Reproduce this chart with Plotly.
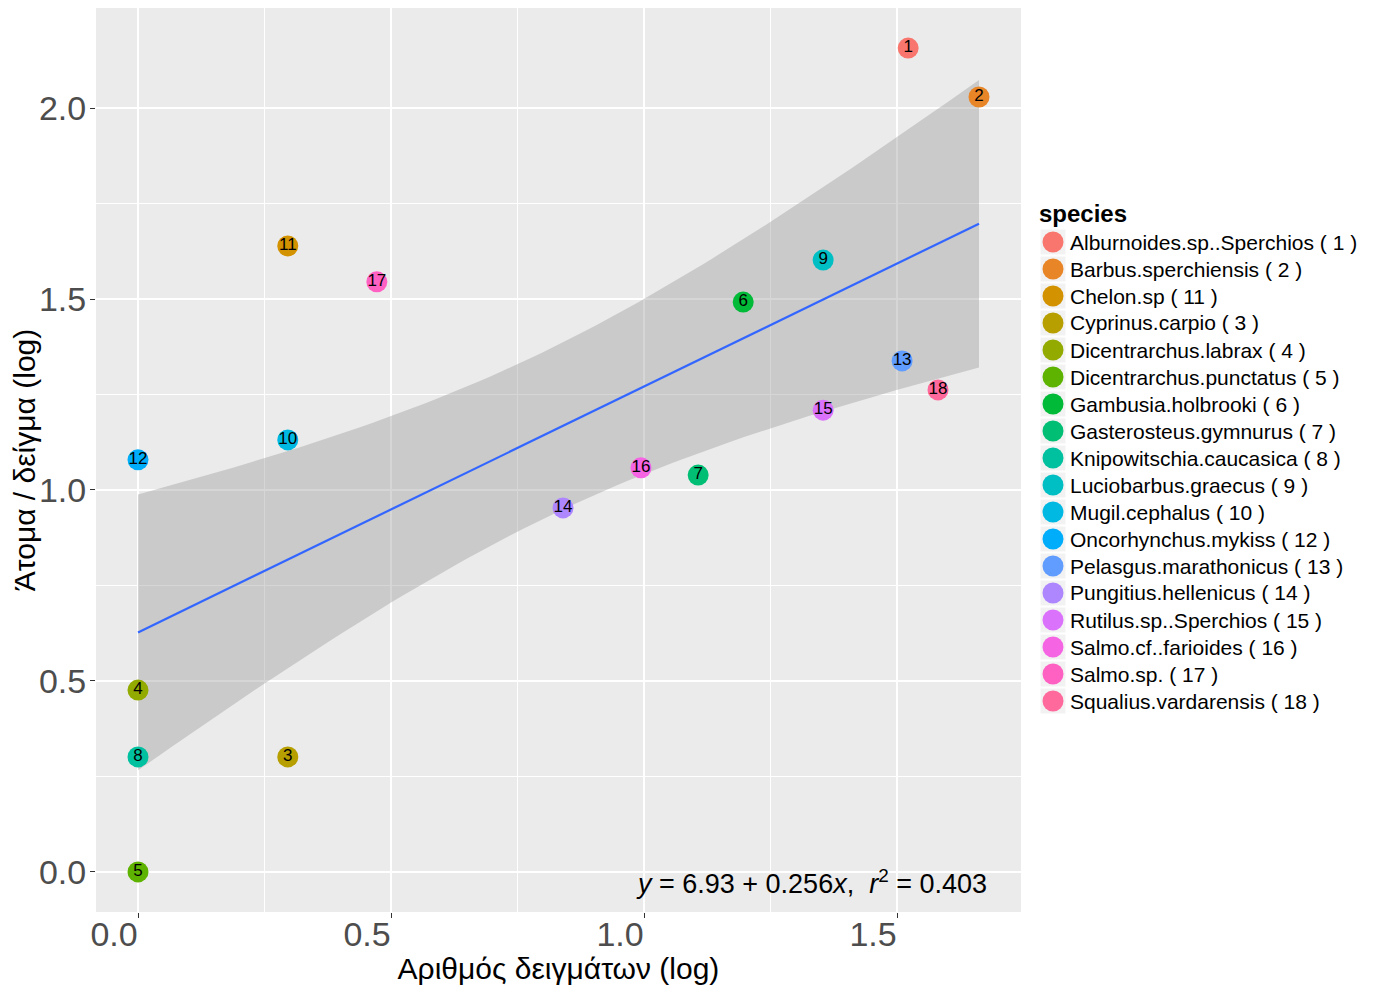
import math
import numpy as np
import plotly.graph_objects as go

# ---- data ----
species = ["Alburnoides.sp..Sperchios", "Barbus.sperchiensis", "Chelon.sp", "Cyprinus.carpio",
           "Dicentrarchus.labrax", "Dicentrarchus.punctatus", "Gambusia.holbrooki",
           "Gasterosteus.gymnurus", "Knipowitschia.caucasica", "Luciobarbus.graecus",
           "Mugil.cephalus", "Oncorhynchus.mykiss", "Pelasgus.marathonicus",
           "Pungitius.hellenicus", "Rutilus.sp..Sperchios", "Salmo.cf..farioides",
           "Salmo.sp.", "Squalius.vardarensis"]
ids = [1, 2, 11, 3, 4, 5, 6, 7, 8, 9, 10, 12, 13, 14, 15, 16, 17, 18]
x_log = [1.522, 1.662, 0.296, 0.296, 0.0, 0.0, 1.196, 1.107, 0.0, 1.354,
         0.296, 0.0, 1.510, 0.840, 1.354, 0.994, 0.472, 1.581]
y_log = [2.157, 2.029, 1.639, 0.301, 0.476, 0.0, 1.492, 1.039, 0.301, 1.602,
         1.131, 1.079, 1.338, 0.953, 1.209, 1.058, 1.545, 1.262]
x_ticks = [0.0, 0.5, 1.0, 1.5]
y_ticks = [0.0, 0.5, 1.0, 1.5, 2.0]
eq_text = "<i>y</i> = 6.93 + 0.256<i>x</i>,  <i>r</i><sup>2</sup> = 0.403"
legend_title = "species"

FONT = "Liberation Sans, Arial"
OFF = 8                     # page body margin that shifts the figure
W, H = 1379 - OFF, 985 - OFF
ML, MR, MT, MB = 96 - OFF, 358, 0, 73
PW, PH = W - ML - MR, H - MT - MB


def hcl_hex(h, c, l):
    hr = math.radians(h)
    u, v = c * math.cos(hr), c * math.sin(hr)
    Xn, Yn, Zn = 95.047, 100.0, 108.883
    Y = Yn * ((l + 16) / 116) ** 3 if l > 8 else Yn * l / 903.3
    den = Xn + 15 * Yn + 3 * Zn
    un, vn = 4 * Xn / den, 9 * Yn / den
    up, vp = u / (13 * l) + un, v / (13 * l) + vn
    X = 9 * Y * up / (4 * vp)
    Z = -X / 3 - 5 * Y + 3 * Y / vp
    X, Y, Z = X / 100, Y / 100, Z / 100
    r = 3.240479 * X - 1.537150 * Y - 0.498535 * Z
    g = -0.969256 * X + 1.875992 * Y + 0.041556 * Z
    b = 0.055648 * X - 0.204043 * Y + 1.057311 * Z

    def gam(t):
        t = 12.92 * t if t <= 0.0031308 else 1.055 * t ** (1 / 2.4) - 0.055
        return int(round(min(max(t, 0), 1) * 255))
    return "#%02X%02X%02X" % (gam(r), gam(g), gam(b))


n = len(species)
colors = [hcl_hex(15 + 360 * i / n, 100, 65) for i in range(n)]

# ---- linear fit with 95% confidence band (like geom_smooth(method='lm')) ----
xa, ya = np.array(x_log), np.array(y_log)
slope, intercept = np.polyfit(xa, ya, 1)
resid = ya - (intercept + slope * xa)
s = math.sqrt((resid ** 2).sum() / (n - 2))
sxx = ((xa - xa.mean()) ** 2).sum()
t975 = 2.119905  # t quantile, df = 16
xs = np.linspace(xa.min(), xa.max(), 80)
yfit = intercept + slope * xs
se = s * np.sqrt(1 / n + (xs - xa.mean()) ** 2 / sxx)
upper, lower = yfit + t975 * se, yfit - t975 * se

fig = go.Figure()
fig.add_trace(go.Scatter(x=np.concatenate([xs, xs[::-1]]), y=np.concatenate([upper, lower[::-1]]),
                         fill="toself", fillcolor="rgba(153,153,153,0.4)", line=dict(width=0),
                         mode="lines", hoverinfo="skip", showlegend=False))
fig.add_trace(go.Scatter(x=xs, y=yfit, mode="lines", line=dict(color="#3366FF", width=2.2),
                         hoverinfo="skip", showlegend=False))

for i in range(n):
    fig.add_trace(go.Scatter(
        x=[x_log[i]], y=[y_log[i]], mode="markers+text",
        name=f"{species[i]} ( {ids[i]} )", showlegend=False,
        marker=dict(color=colors[i], size=21, line=dict(width=0)),
        text=[str(ids[i])], textposition="middle center",
        textfont=dict(color="black", size=17, family=FONT),
    ))


# ---- ggplot-like legend (key boxes + circles + labels) in paper coordinates ----
def px_x(p):
    return (p - OFF - ML) / PW


def px_y(p):
    return (H - MB - (p - OFF)) / PH


row0, pitch = 242, 27
key_cx, text_x = 1053, 1068
for i in range(n):
    cy = row0 + pitch * i
    fig.add_shape(type="rect", xref="paper", yref="paper",
                  xsizemode="pixel", ysizemode="pixel",
                  xanchor=px_x(key_cx), yanchor=px_y(cy),
                  x0=-12.5, x1=12.5, y0=-12.5, y1=12.5,
                  fillcolor="#F2F2F2", line=dict(width=0), layer="below")
    fig.add_shape(type="circle", xref="paper", yref="paper",
                  xsizemode="pixel", ysizemode="pixel",
                  xanchor=px_x(key_cx), yanchor=px_y(cy),
                  x0=-10.5, x1=10.5, y0=-10.5, y1=10.5,
                  fillcolor=colors[i], line=dict(width=0))
    fig.add_annotation(xref="paper", yref="paper", x=px_x(text_x), y=px_y(cy),
                       xanchor="left", yanchor="middle", showarrow=False,
                       text=f"{species[i]} ( {ids[i]} )",
                       font=dict(size=21, color="black", family=FONT))
fig.add_annotation(xref="paper", yref="paper", x=px_x(1037), y=px_y(214),
                   xanchor="left", yanchor="middle", showarrow=False,
                   text=f"<b>{legend_title}</b>", font=dict(size=24, color="black", family=FONT))

fig.add_annotation(x=1.0, xref="x domain", xanchor="right", xshift=-32,
                   y=0.0, yref="y", yanchor="middle", yshift=-10,
                   text=eq_text, showarrow=False,
                   font=dict(size=27, color="black", family=FONT))

axis_common = dict(showline=False, zeroline=False, showgrid=True, gridcolor="white", gridwidth=1.8,
                   ticks="outside", ticklen=5, tickwidth=1.2, tickcolor="#333333", automargin=False,
                   tickfont=dict(size=34, color="#4D4D4D", family=FONT))

fig.update_xaxes(range=[-0.083, 1.745], tickvals=x_ticks, ticktext=[f"{v:.1f}" for v in x_ticks],
                 ticklabelshift=-24, ticklabelstandoff=-13,
                 minor=dict(tickvals=[0.25, 0.75, 1.25], showgrid=True, gridcolor="white",
                            gridwidth=0.9, ticks=""),
                 title=dict(text="Αριθμός δειγμάτων (log)", standoff=0,
                            font=dict(size=30, color="black", family=FONT)),
                 **axis_common)
fig.update_yaxes(range=[-0.105, 2.262], tickvals=y_ticks, ticktext=[f"{v:.1f}" for v in y_ticks],
                 ticklabelstandoff=-3,
                 minor=dict(tickvals=[0.25, 0.75, 1.25, 1.75], showgrid=True, gridcolor="white",
                            gridwidth=0.9, ticks=""),
                 title=dict(text="Άτομα / δείγμα (log)", standoff=7,
                            font=dict(size=30, color="black", family=FONT)),
                 **axis_common)

fig.update_layout(
    width=W, height=H,
    margin=dict(l=ML, r=MR, t=MT, b=MB, autoexpand=False),
    paper_bgcolor="white", plot_bgcolor="#EBEBEB",
    font=dict(family=FONT, color="black"),
    showlegend=False,
)

fig.write_html("out.html")
